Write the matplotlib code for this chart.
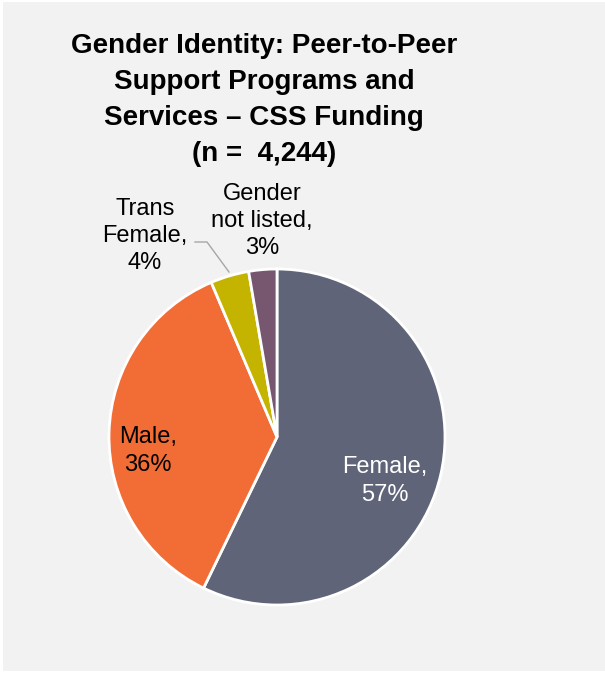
import matplotlib
matplotlib.use("Agg")
import matplotlib.pyplot as plt
from matplotlib.patches import Rectangle

plt.rcParams['font.family'] = ['Liberation Sans', 'DejaVu Sans']

categories = ["Female", "Male", "Trans Female", "Gender not listed"]
values = [57.2, 36.4, 3.7, 2.7]
label_texts = ["Female,\n57%", "Male,\n36%", "Trans\nFemale,\n4%", "Gender\nnot listed,\n3%"]
colors = ["#5F6478", "#F26C36", "#C4B400", "#77566F"]
title = "Gender Identity: Peer-to-Peer\nSupport Programs and\nServices – CSS Funding\n(n =  4,244)"

W, H = 605, 673
fig = plt.figure(figsize=(W / 100, H / 100), dpi=100)
fig.patch.set_facecolor("white")

bg = fig.add_axes([3 / W, 2 / H, (W - 3) / W, (H - 4) / H], zorder=-5)
bg.set_facecolor("#F2F2F2")
bg.set_xticks([])
bg.set_yticks([])
for s in bg.spines.values():
    s.set_visible(False)

# pie axes: center (277, 437), radius 168 px
cx, cy, r = 277, 437, 168
ax = fig.add_axes([(cx - r) / W, 1 - (cy + r) / H, 2 * r / W, 2 * r / H], zorder=1)
ax.set_facecolor("none")
wedges, _ = ax.pie(values, colors=colors, startangle=90, counterclock=False,
                   wedgeprops=dict(edgecolor="white", linewidth=2))
ax.set_xlim(-1, 1)
ax.set_ylim(-1, 1)
ax.set_aspect("equal")
ax.axis("off")

fig.text(264 / W, 1 - 100 / H, title, ha="center", va="center", fontsize=20,
         fontweight="bold", linespacing=1.51, color="black", zorder=5)

def px(x, y):
    return (x / W, 1 - y / H)

label_pos = [(385, 481), (148, 451), (145, 236), (262, 221)]
label_colors = ["white", "black", "black", "black"]
label_ls = [1.3, 1.3, 1.3, 1.27]
for t, (x, y), c, ls in zip(label_texts, label_pos, label_colors, label_ls):
    fig.text(*px(x, y), t, ha="center", va="center", fontsize=17,
             color=c, linespacing=ls, zorder=5)

# leader line for Trans Female
xs = [195, 207, 229]
ys = [242, 242, 272]
fig.add_artist(plt.Line2D([x / W for x in xs], [1 - y / H for y in ys],
                          transform=fig.transFigure, color="#A6A6A6", linewidth=1,
                          zorder=5))

fig.savefig("out.png", dpi=100, facecolor=fig.get_facecolor())
